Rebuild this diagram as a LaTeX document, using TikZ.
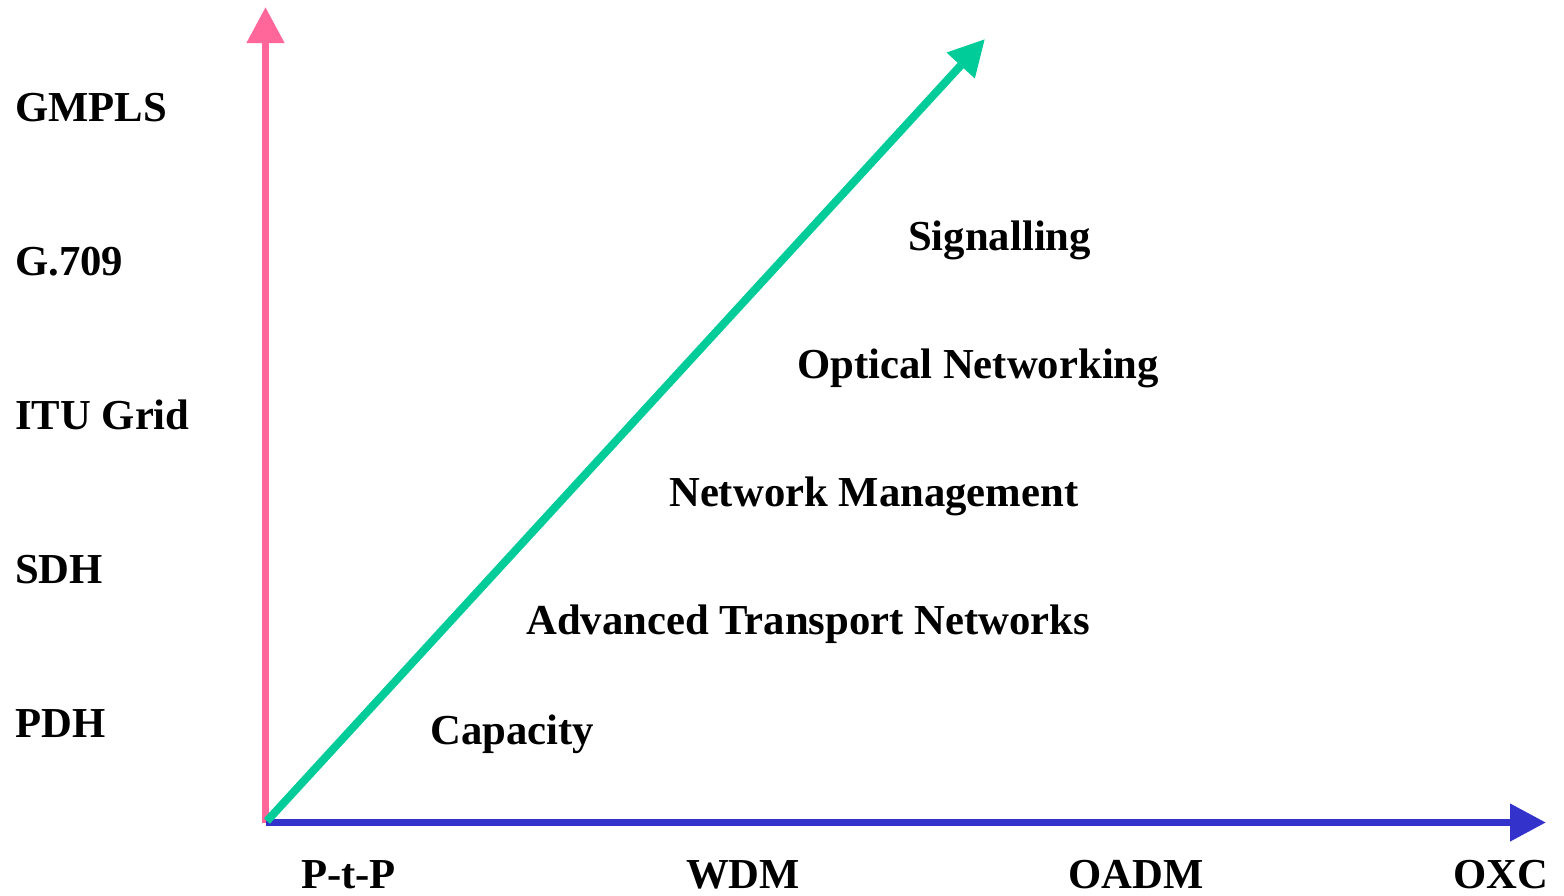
\documentclass[tikz,border=0pt]{standalone}
\usepackage{fontspec}
\setmainfont{Liberation Serif}
\usetikzlibrary{arrows.meta}
\definecolor{axispink}{HTML}{FF6699}
\definecolor{axisblue}{HTML}{3333CC}
\definecolor{trendgreen}{HTML}{00CC99}
\begin{document}
\begin{tikzpicture}[x=1pt,y=-1pt,
  lbl/.style={anchor=base west,inner sep=0pt,font=\fontsize{42.7}{50}\selectfont\bfseries},
  axisline/.style={line width=7.5pt,-{Triangle[length=36pt,width=36pt]}}]
\useasboundingbox (0,0) rectangle (1564,895);
% axes and trend line
\coordinate (O) at (265.5,822.5);
\coordinate (ytip) at (265.5,7);
\coordinate (xtip) at (1546,822.5);
\coordinate (gstart) at (267,821);
\coordinate (gtip) at (985,39);
\draw[axisline,axispink] (O) -- (ytip);
\draw[axisline,axisblue] (O) -- (xtip);
\draw[axisline,trendgreen,line width=8pt] (gstart) -- (gtip);
% vertical axis labels
\node[lbl] (gmpls) at (15,121) {GMPLS};
\node[lbl] (g709) at (15,275) {G.709};
\node[lbl] (itu) at (15,429) {ITU Grid};
\node[lbl] (sdh) at (15,583) {SDH};
\node[lbl] (pdh) at (15,737) {PDH};
% horizontal axis labels
\node[lbl] (ptp) at (301,888) {P-t-P};
\node[lbl] (wdm) at (686,888) {WDM};
\node[lbl] (oadm) at (1068,888) {OADM};
\node[lbl] (oxc) at (1453,888) {OXC};
% staircase of topics
\node[lbl] (sig) at (908,250) {Signalling};
\node[lbl] (opt) at (797,378) {Optical Networking};
\node[lbl] (nm) at (669,506) {Network Management};
\node[lbl] (atn) at (526,634) {Advanced Transport Networks};
\node[lbl] (cap) at (430,744) {Capacity};
\end{tikzpicture}
\end{document}
